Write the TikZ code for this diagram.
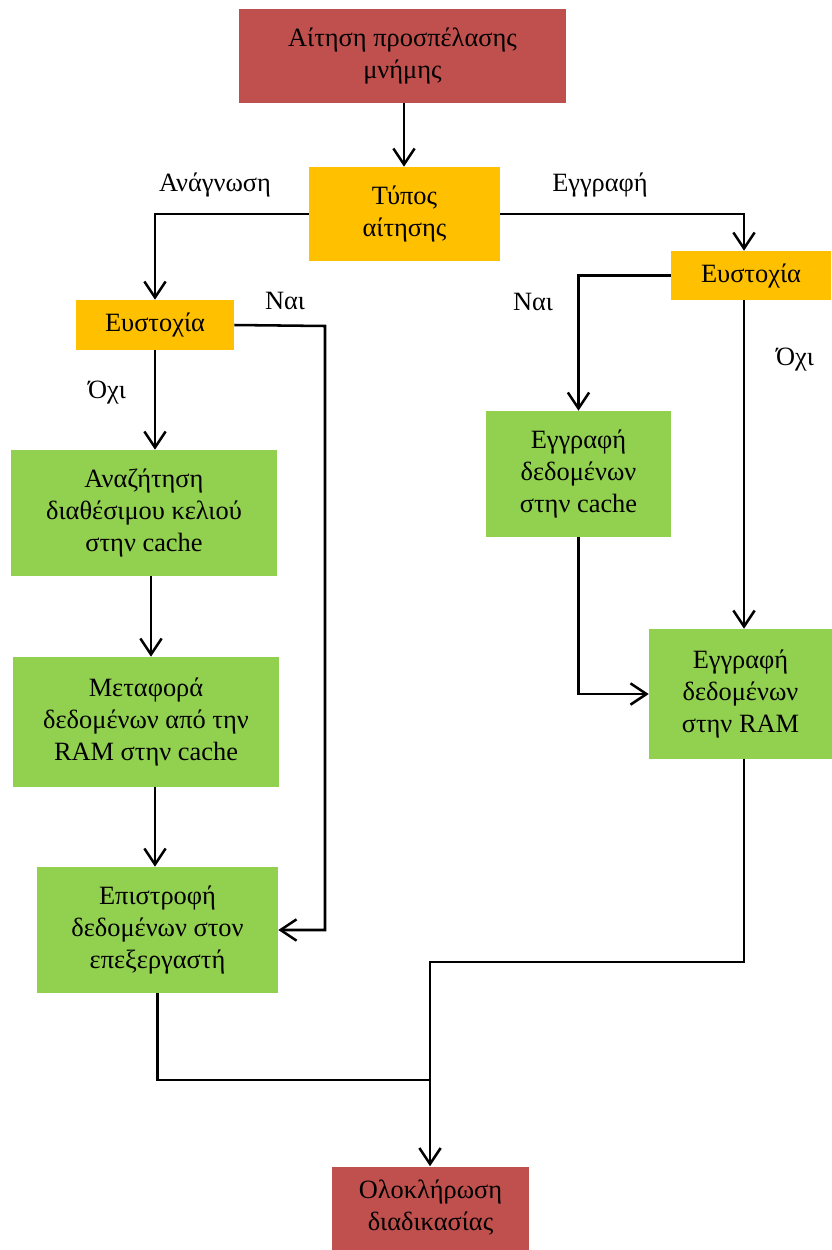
\documentclass[tikz,border=0pt]{standalone}
\usepackage{fontspec}
\setmainfont{Liberation Serif}
\usetikzlibrary{arrows.meta,positioning,calc}

\definecolor{reqred}{HTML}{C0504D}
\definecolor{askorange}{HTML}{FFC000}
\definecolor{stepgreen}{HTML}{92D050}

\begin{document}
\begin{tikzpicture}[x=0.75pt, y=-0.75pt,
    box/.style={fill=#1, inner sep=0pt, align=center, font=\fontsize{19.8}{24}\selectfont},
    lbl/.style={font=\fontsize{19.8}{24}\selectfont, inner sep=0pt},
    flow/.style={line width=1.9pt, -{Straight Barb[length=12pt, width=16pt]}},
    link/.style={line width=1.9pt}]

    % --- picture frame ---
    \useasboundingbox (0,0) rectangle (832,1250);

    % --- request and type ---
    \node[box=reqred, minimum width=245.25pt, minimum height=70.5pt] (start) at (402.5,56)
        {Αίτηση προσπέλασης\\μνήμης};
    \node[box=askorange, minimum width=143.25pt, minimum height=70.5pt] (type) at (404.5,214)
        {Τύπος\\αίτησης};

    % --- hit checks ---
    \node[box=askorange, minimum width=118.5pt, minimum height=37.5pt] (hitL) at (155,325) {Ευστοχία};
    \node[box=askorange, minimum width=120pt, minimum height=36.75pt] (hitR) at (751,275.5) {Ευστοχία};

    % --- read branch ---
    \node[box=stepgreen, minimum width=199.5pt, minimum height=94.5pt] (search) at (144,513)
        {Αναζήτηση\\διαθέσιμου κελιού\\στην cache};
    \node[box=stepgreen, minimum width=199.5pt, minimum height=97.5pt] (trans) at (146,722)
        {Μεταφορά\\δεδομένων από την\\RAM στην cache};
    \node[box=stepgreen, minimum width=180.75pt, minimum height=94.5pt] (ret) at (157.5,930)
        {Επιστροφή\\δεδομένων στον\\επεξεργαστή};

    % --- write branch ---
    \node[box=stepgreen, minimum width=138.75pt, minimum height=94.5pt] (wcache) at (578.5,474)
        {Εγγραφή\\δεδομένων\\στην cache};
    \node[box=stepgreen, minimum width=137.25pt, minimum height=97.5pt] (wram) at (740.5,694)
        {Εγγραφή\\δεδομένων\\στην RAM};

    % --- end ---
    \node[box=reqred, minimum width=147.75pt, minimum height=62.25pt] (endn) at (430.5,1208)
        {Ολοκλήρωση\\διαδικασίας};

    % --- helper points ---
    \coordinate (colT) at (404,0);
    \coordinate (colR) at (744,0);
    \coordinate (colA) at (151,0);
    \coordinate (colB) at (155,0);
    \coordinate (yesL) at (325,326);
    \coordinate (joinR) at (744,962);
    \coordinate (joinM) at (430,962);
    \coordinate (joinB) at (430,1080);

    % --- connectors ---
    \draw[flow] (start.south -| colT) -- (type.north -| colT);
    \draw[flow] (type.west) -| (hitL.north -| colB);
    \draw[flow] (type.east) -| (hitR.north -| colR);
    \draw[flow] (hitL.east) -- (yesL) |- (ret.east);
    \draw[flow] (hitL.south -| colB) -- (search.north -| colB);
    \draw[flow] (search.south -| colA) -- (trans.north -| colA);
    \draw[flow] (trans.south -| colB) -- (ret.north -| colB);
    \draw[link] (ret.south) |- (joinB);
    \draw[flow] (hitR.west) -| (wcache.north);
    \draw[flow] (hitR.south -| colR) -- (wram.north -| colR);
    \draw[flow] (wcache.south) |- (wram.west);
    \draw[flow] (wram.south -| colR) -- (joinR) -- (joinM) -- (endn.north -| joinM);

    % --- branch labels ---
    \node[lbl] (readL) at (215,185) {Ανάγνωση};
    \node[lbl] (writeL) at (600,185) {Εγγραφή};
    \node[lbl] (yesLL) at (285,301) {Ναι};
    \node[lbl] (noLL) at (107,393) {Όχι};
    \node[lbl] (yesRL) at (533,302) {Ναι};
    \node[lbl] (noRL) at (795,360) {Όχι};

\end{tikzpicture}
\end{document}
